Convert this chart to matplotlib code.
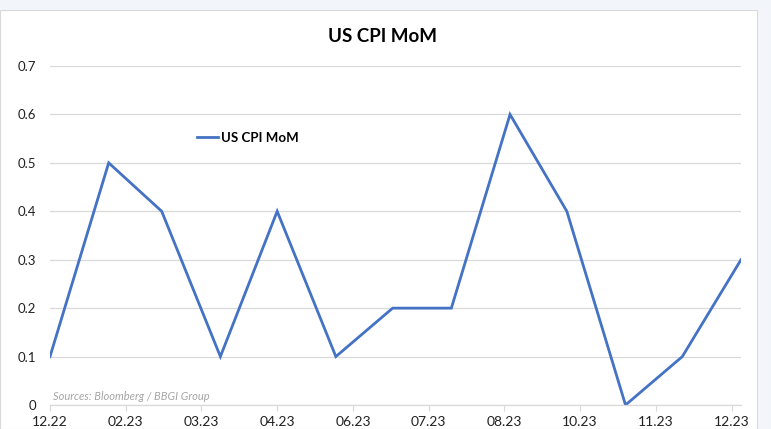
import numpy as np
import pandas as pd
import matplotlib
matplotlib.use('Agg')
import matplotlib.pyplot as plt
import matplotlib.dates as mdates
from matplotlib.patches import Rectangle

plt.rcParams['font.family'] = ['Lato', 'DejaVu Sans']

# --- data ---
months = pd.date_range('2022-12-31', periods=13, freq='ME')
cpi_mom = [0.1, 0.5, 0.4, 0.1, 0.4, 0.1, 0.2, 0.2, 0.6, 0.4, 0.0, 0.1, 0.3]
y_ticks = [0, 0.1, 0.2, 0.3, 0.4, 0.5, 0.6, 0.7]
y_labels = ['0', '0.1', '0.2', '0.3', '0.4', '0.5', '0.6', '0.7']
tick_step_days = 40

W, H = 771, 429
fig = plt.figure(figsize=(W / 100, H / 100), dpi=100, facecolor='#f2f6fb')

# chart card
fig.patches.append(Rectangle((0 / W, 0), 757 / W, 1 - 10 / H, transform=fig.transFigure,
                             facecolor='white', edgecolor='#d9d9d9', linewidth=0.8, zorder=-5))

ax = fig.add_axes([50 / W, 1 - 405 / H, (741 - 50) / W, (405 - 66) / H])
ax.patch.set_alpha(0)

ax.plot(months, cpi_mom, color='#4472C4', linewidth=2.0, label='US CPI MoM', solid_joinstyle='miter')

ax.set_xlim(months[0], months[-1])
ax.set_ylim(0, 0.7)
ax.set_yticks(y_ticks)
ax.set_yticklabels(y_labels)
ax.grid(axis='y', color='#d9d9d9', linewidth=0.9)
ax.set_axisbelow(True)

xt = [months[0] + pd.Timedelta(days=tick_step_days * i) for i in range(10)]
ax.set_xticks(xt)
ax.xaxis.set_major_formatter(mdates.DateFormatter('%m.%y'))

for s in ['top', 'right', 'left']:
    ax.spines[s].set_visible(False)
ax.spines['bottom'].set_color('#d9d9d9')
ax.spines['bottom'].set_linewidth(0.9)
ax.tick_params(axis='y', length=0, pad=10, labelsize=9.5, labelcolor='#222222')
ax.tick_params(axis='x', length=4, color='#d9d9d9', pad=4, labelsize=10, labelcolor='#222222')

fig.text(383 / W, 1 - 36 / H, 'US CPI MoM', ha='center', va='center', fontsize=13.5, fontweight='bold')

ax.legend(loc='center left', bbox_to_anchor=((185 - 50) / (741 - 50), (405 - 138) / (405 - 66)),
          frameon=False, handlelength=1.6, handletextpad=0.2, prop={'weight': 'bold', 'size': 9.5})

ax.text(3 / (741 - 50), 8 / (405 - 66), 'Sources: Bloomberg / BBGI Group', transform=ax.transAxes,
        fontsize=8, style='italic', color='#a6a6a6', ha='left', va='center')

fig.savefig('out.png', dpi=100, facecolor=fig.get_facecolor())
